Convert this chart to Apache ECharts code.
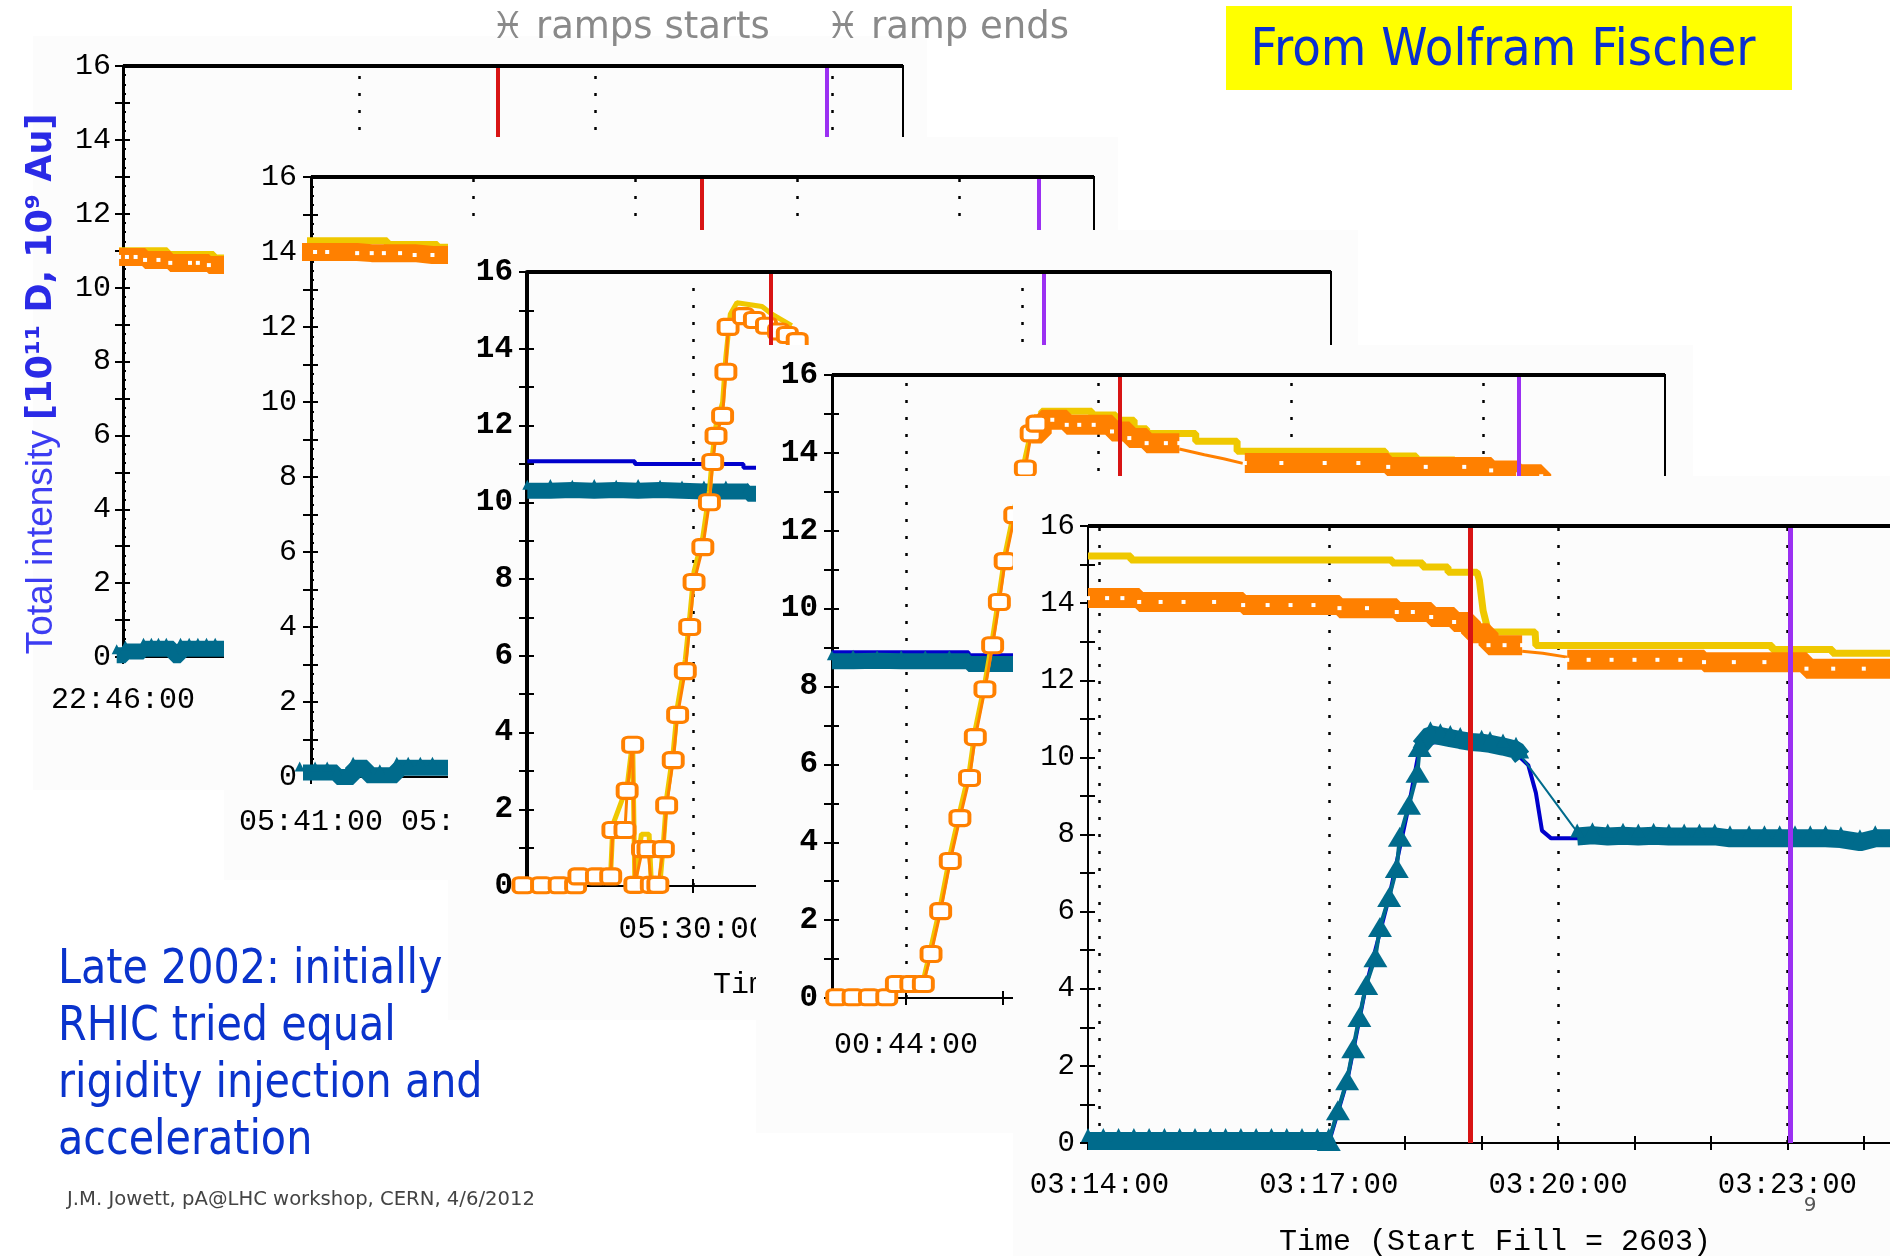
<!DOCTYPE html>
<html><head><meta charset="utf-8">
<script src="https://cdn.jsdelivr.net/npm/echarts@6/dist/echarts.min.js"></script>
<style>html,body{margin:0;padding:0;background:#fff}#c{width:1890px;height:1256px}</style>
</head><body><div id="c"></div>
<script>
// ===== DATA (x: minutes after each panel's labelled start time, y: intensity) =====
const panelStartTimes = ['22:46:00', '05:41:00', '05:30:00', '00:44:00', '03:14:00'];
const rampStartMin = [4.76, 4.83, 0.71, 2.22, 4.85];
const rampEndMin   = [8.93, 8.99, 3.20, 6.37, 9.04];
const gridLineMin  = [[3, 6, 9], [2, 4, 6, 8], [0, 3], [0, 2, 4, 6], [0, 3, 6, 9]];
const fillLabel = 'Time (Start Fill = 2603)';

// panel 1
const p1Yellow = [[-0.05,11.0],[0.56,10.9],[1.0,10.9],[1.15,10.8],[1.35,10.8]];
const p1Orange = [[-0.05,10.83],[0.05,10.83],[0.16,10.83],[0.28,10.75],[0.45,10.75],[0.6,10.67],[0.85,10.67],[0.95,10.67],[1.09,10.61],[1.35,10.61]];
const p1Teal = [[-0.08,0.05],[0.03,0.15],[0.26,0.22],[0.36,0.22],[0.45,0.22],[0.55,0.22],[0.64,0.05],[0.73,0.22],[0.84,0.22],[0.95,0.22],[1.06,0.22],[1.17,0.22],[1.35,0.22]];
// panel 2
const p2Yellow = [[-0.14,14.3],[0.94,14.2],[1.56,14.13],[1.75,14.13]];
const p2Orange = [[-0.14,14.0],[0.05,14.0],[0.2,14.0],[0.57,13.97],[0.75,13.97],[0.9,13.97],[1.1,13.97],[1.28,13.92],[1.5,13.92],[1.75,13.92]];
const p2Teal = [[-0.14,0.12],[0.05,0.12],[0.2,0.12],[0.32,0.0],[0.52,0.25],[0.69,0.05],[0.85,0.05],[1.06,0.25],[1.2,0.25],[1.35,0.25],[1.5,0.25],[1.75,0.25]];
// panel 3
const p3Blue = [[-1.51,11.07],[-0.53,11.07],[-0.53,11.0],[0.46,11.0],[0.46,10.9],[0.62,10.9]];
const p3Teal = [[-1.51,10.3],[-1.3,10.32],[-1.1,10.3],[-0.9,10.32],[-0.7,10.3],[-0.5,10.32],[-0.3,10.3],[-0.1,10.28],[0.1,10.28],[0.3,10.28],[0.5,10.22],[0.62,10.22]];
const p3Yellow = [[-1.55,0.1],[-1.07,0.1],[-1.04,0.35],[-0.75,0.35],[-0.73,1.6],[-0.6,2.6],[-0.55,3.8],[-0.53,0.1],[-0.47,1.35],[-0.4,1.35],[-0.38,0.1],[-0.3,0.1],[-0.27,1.1],[-0.24,2.3],[-0.18,3.5],[-0.14,4.7],[-0.07,5.9],[-0.03,7.0],[0.01,8.2],[0.09,9.1],[0.15,10.3],[0.18,11.3],[0.21,12.0],[0.27,12.6],[0.30,13.8],[0.34,14.9],[0.4,15.2],[0.63,15.1],[0.72,14.9],[0.9,14.6]];
const p3Orange = [[-1.55,0.02],[-1.38,0.02],[-1.22,0.02],[-1.07,0.02],[-1.04,0.25],[-0.88,0.25],[-0.75,0.25],[-0.73,1.46],[-0.62,1.46],[-0.6,2.48],[-0.55,3.68],[-0.53,0.03],[-0.46,0.96],[-0.41,0.96],[-0.38,0.03],[-0.32,0.03],[-0.27,0.96],[-0.24,2.1],[-0.18,3.28],[-0.14,4.46],[-0.07,5.6],[-0.03,6.75],[0.01,7.92],[0.09,8.83],[0.15,10.0],[0.18,11.05],[0.21,11.73],[0.27,12.25],[0.30,13.4],[0.32,14.57],[0.46,14.85],[0.56,14.75],[0.67,14.6],[0.78,14.45],[0.86,14.36],[0.95,14.2]];
// panel 4
const p4Blue = [[-0.77,8.88],[0.65,8.88],[0.65,8.8],[1.2,8.8]];
const p4Teal = [[-0.77,8.65],[-0.55,8.66],[-0.3,8.65],[-0.05,8.65],[0.2,8.65],[0.45,8.65],[0.65,8.58],[0.85,8.58],[1.2,8.58]];
const p4YellowRamp = [[-0.72,0.12],[-0.2,0.12],[-0.1,0.45],[0.18,0.45],[0.26,1.3],[0.36,2.4],[0.46,3.7],[0.56,4.8],[0.66,5.85],[0.72,6.9],[0.82,8.1],[0.9,9.25],[0.97,10.4],[1.03,11.4],[1.13,12.6],[1.24,13.9],[1.33,14.9]];
const p4OrangeRamp = [[-0.72,0.02],[-0.55,0.02],[-0.38,0.02],[-0.2,0.02],[-0.1,0.36],[0.05,0.36],[0.18,0.36],[0.26,1.13],[0.36,2.23],[0.46,3.52],[0.56,4.62],[0.66,5.65],[0.72,6.7],[0.82,7.93],[0.9,9.06],[0.97,10.17],[1.03,11.22],[1.13,12.4],[1.24,13.6],[1.3,14.5],[1.36,14.75]];
const p4YellowTop = [[1.33,14.9],[1.41,15.07],[1.93,14.97],[2.18,14.84],[2.37,14.62],[2.5,14.5],[3.01,14.3],[3.44,14.04],[4.98,13.92],[5.3,13.82],[5.7,13.72],[5.98,13.6],[6.19,13.47],[6.59,13.35]];
const p4OrangeBandA = [[1.3,14.5],[1.41,14.85],[1.52,14.85],[1.67,14.72],[1.8,14.72],[1.95,14.72],[2.14,14.55],[2.32,14.38],[2.5,14.25],[2.7,14.25],[2.84,14.25]];
const p4OrangeThin = [[2.84,14.1],[3.1,13.95],[3.3,13.85],[3.5,13.73]];
const p4OrangeBandB = [[3.52,13.74],[3.9,13.74],[4.35,13.74],[4.7,13.74],[5.01,13.64],[5.4,13.64],[5.8,13.64],[6.08,13.55],[6.36,13.45],[6.6,13.4]];
// panel 5
const p5Yellow = [[-0.15,15.22],[0.41,15.22],[0.41,15.12],[3.83,15.12],[3.83,15.04],[4.23,15.04],[4.23,14.94],[4.56,14.94],[4.56,14.8],[4.94,14.8],[4.97,14.6],[5.02,13.8],[5.09,13.25],[5.7,13.25],[5.71,12.9],[8.8,12.9],[8.8,12.8],[9.59,12.8],[9.59,12.7],[10.5,12.7]];
const p5OrangeA = [[-0.15,14.13],[0.1,14.13],[0.3,14.13],[0.52,14.03],[0.8,14.03],[1.1,14.03],[1.5,14.03],[1.88,13.95],[2.2,13.95],[2.5,13.95],[2.8,13.95],[3.14,13.87],[3.5,13.87],[3.89,13.77],[4.1,13.77],[4.34,13.64],[4.64,13.51],[4.86,13.22],[5.09,12.91],[5.3,12.91],[5.53,12.91]];
const p5OrangeThin = [[5.53,12.75],[5.8,12.7],[6.12,12.6]];
const p5OrangeB = [[6.12,12.53],[6.4,12.53],[6.7,12.53],[7.0,12.53],[7.3,12.53],[7.6,12.53],[7.91,12.47],[8.3,12.47],[8.7,12.47],[9.25,12.3],[9.6,12.3],[10.0,12.3],[10.5,12.3]];
const p5Blue = [[-0.15,0.0],[3.0,0.0],[3.24,1.6],[3.49,4.1],[3.79,6.38],[4.05,8.77],[4.19,10.27],[4.4,10.4],[5.45,10.1],[5.61,9.8],[5.71,9.08],[5.79,8.1],[5.91,7.9],[6.3,7.9],[10.5,7.9]];
const p5TealFlat = [[-0.15,0.05],[0.05,0.05],[0.25,0.05],[0.45,0.05],[0.65,0.05],[0.85,0.05],[1.05,0.05],[1.25,0.05],[1.45,0.05],[1.65,0.05],[1.85,0.05],[2.05,0.05],[2.25,0.05],[2.45,0.05],[2.65,0.05],[2.85,0.05],[3.0,0.05]];
const p5TealRamp = [[3.0,0.05],[3.12,0.85],[3.24,1.63],[3.32,2.46],[3.40,3.27],[3.49,4.1],[3.61,4.82],[3.67,5.6],[3.79,6.38],[3.89,7.13],[3.93,7.94],[4.05,8.77],[4.16,9.6],[4.19,10.27]];
const p5TealPeak = [[4.19,10.27],[4.33,10.6],[4.46,10.55],[4.59,10.5],[4.72,10.45],[4.86,10.4],[5.0,10.38],[5.11,10.35],[5.28,10.28],[5.45,10.2],[5.53,10.0]];
const p5TealThin = [[5.53,10.0],[6.2,8.2],[6.29,7.95]];
const p5TealB = [[6.25,7.95],[6.45,7.98],[6.65,7.95],[6.85,7.97],[7.05,7.95],[7.25,7.97],[7.45,7.95],[7.65,7.95],[7.85,7.95],[8.05,7.95],[8.25,7.9],[8.5,7.9],[8.7,7.9],[8.9,7.9],[9.1,7.9],[9.3,7.9],[9.5,7.9],[9.7,7.88],[9.95,7.8],[10.15,7.9],[10.5,7.9]];

// ===== STYLE / LAYOUT =====
const ORANGE = '#ff8000', YELLOW = '#efc800', TEAL = '#006b8c', BLUE = '#0000cc', RED = '#d81414', PURPLE = '#9b30f2';
const MONO = 'Liberation Mono, DejaVu Sans Mono, monospace';
const SANS = 'DejaVu Sans, Verdana, sans-serif';
const layout = [
  {grid:{left:123, top:66, width:780, height:591}, xMin:0, xMax:9.9, tick:3, labelStep:3, bg:[33,36,894,754], xFs:30, yFs:30, bold:false, xMargin:28, yMargin:12, axisW:3, minor:true},
  {grid:{left:311, top:177, width:783, height:600}, xMin:0, xMax:9.67, tick:2, labelStep:2, bg:[224,137,894,743], xFs:30, yFs:30, bold:false, xMargin:30, yMargin:14, axisW:3, minor:true},
  {grid:{left:527, top:272, width:804, height:614}, xMin:-1.513, xMax:5.816, tick:3, labelStep:3, bg:[448,230,910,790], xFs:31, yFs:31, bold:true, xMargin:28, yMargin:14, axisW:4, minor:false},
  {grid:{left:832, top:375, width:833, height:623}, xMin:-0.769, xMax:7.886, tick:1, labelStep:2, bg:[756,345,937,788], xFs:30, yFs:31, bold:true, xMargin:32, yMargin:14, axisW:3, minor:false},
  {grid:{left:1088, top:526, width:814, height:617}, xMin:-0.15, xMax:10.5, tick:1, labelStep:3, bg:[1013,476,877,780], xFs:29, yFs:29, bold:false, xMargin:28, yMargin:13, axisW:2, minor:false}
];

function timeFmt(start, step) {
  const [h, m, s] = start.split(':').map(Number);
  const b = h * 3600 + m * 60 + s;
  return v => {
    const r = Math.round(v);
    if (Math.abs(v - r) > 1e-6 || r % step !== 0) return '';
    const t = ((b + r * 60) % 86400 + 86400) % 86400;
    return [Math.floor(t / 3600), Math.floor(t % 3600 / 60), t % 60].map(x => String(x).padStart(2, '0')).join(':');
  };
}
const yFmt = v => { const r = Math.round(v); return (Math.abs(v - r) < 1e-6 && r % 2 === 0) ? String(r) : ''; };

const option = {animation:false, backgroundColor:'#ffffff', grid:[], xAxis:[], yAxis:[], series:[], graphic:{elements:[]}};
const seriesData = [
  {yellow:[p1Yellow], orangeBand:[p1Orange], tealBand:[p1Teal]},
  {yellow:[p2Yellow], orangeBand:[p2Orange], tealBand:[p2Teal]},
  {blue:[p3Blue], tealBand:[p3Teal], yellowRamp:[p3Yellow], orangeRamp:[p3Orange]},
  {blue:[p4Blue], tealBand:[p4Teal], yellowRamp:[p4YellowRamp], yellow:[p4YellowTop], orangeBand:[p4OrangeBandA, p4OrangeBandB], orangeThin:[p4OrangeThin], orangeRamp:[p4OrangeRamp]},
  {blue:[p5Blue], yellowRamp:[p5Yellow], tealBand:[p5TealFlat, p5TealPeak, p5TealB], tealRamp:[p5TealRamp], tealThin:[p5TealThin], orangeBand:[p5OrangeA, p5OrangeB], orangeThin:[p5OrangeThin]}
];

layout.forEach((L, p) => {
  const zb = 10 * (p + 1);
  const tick = {show:true, length:7, lineStyle:{color:'#000', width:2}};
  const [bx, by, bw, bh] = L.bg;
  option.graphic.elements.push({type:'rect', silent:true, z:zb, shape:{x:bx, y:by, width:bw, height:bh}, style:{fill:'#fcfcfc'}});
  option.grid.push(Object.assign({show:true, borderColor:'#000', borderWidth:2, backgroundColor:'transparent', z:zb + 1, outerBoundsMode:'none', containLabel:false}, L.grid));
  const xBase = {type:'value', gridIndex:p, min:L.xMin, max:L.xMax, minInterval:L.tick, maxInterval:L.tick, splitNumber:10, z:zb + 1, splitLine:{show:false}};
  option.xAxis.push(Object.assign({}, xBase, {position:'bottom',
    axisLine:{show:true, onZero:false, lineStyle:{color:'#000', width:2}}, axisTick:tick,
    axisLabel:{show:true, margin:L.xMargin, fontFamily:MONO, fontSize:L.xFs, color:'#000', formatter:timeFmt(panelStartTimes[p], L.labelStep)},
    name:fillLabel, nameLocation:'middle', nameGap:84, nameTextStyle:{fontFamily:MONO, fontSize:30, color:'#000', verticalAlign:'top'}}));
  option.xAxis.push(Object.assign({}, xBase, {position:'top', offset:-L.grid.height,
    axisLine:{show:false, onZero:false}, axisTick:tick, axisLabel:{show:false}}));
  const yBase = {type:'value', gridIndex:p, min:0, max:16, interval:1, z:zb + 1, splitLine:{show:false}};
  option.yAxis.push(Object.assign({}, yBase, {position:'left',
    axisLine:{show:true, onZero:false, lineStyle:{color:'#000', width:L.axisW}}, axisTick:{show:true, length:8, lineStyle:{color:'#000', width:2}},
    axisLabel:{show:true, margin:L.yMargin, fontFamily:MONO, fontSize:L.yFs, fontWeight:L.bold ? 'bold' : 'normal', color:'#000', formatter:yFmt}}));
  option.yAxis.push(Object.assign({}, yBase, {position:'right', offset:-L.grid.width,
    axisLine:{show:false, onZero:false}, axisTick:{show:true, length:7, lineStyle:{color:'#000', width:2}},
    minorTick:{show:L.minor, splitNumber:4, length:3, lineStyle:{color:'#000', width:2}}, axisLabel:{show:false}}));

  const base = {type:'line', xAxisIndex:2 * p, yAxisIndex:2 * p, clip:false, silent:true, animation:false, showAllSymbol:true, connectNulls:false};
  const D = seriesData[p];
  const add = (arr, opt) => (arr || []).forEach(d => option.series.push(Object.assign({}, base, {data:d}, opt)));
  // dotted time grid lines
  option.series.push(Object.assign({}, base, {data:[[L.xMin, -10]], symbol:'none', lineStyle:{opacity:0}, z:zb + 1,
    markLine:{silent:true, symbol:['none', 'none'], label:{show:false}, z:zb + 1, animation:false,
      lineStyle:{color:'#000', width:2.5, type:[3, 14]}, data:gridLineMin[p].map(v => ({xAxis:v}))}}));
  add(D.blue, {symbol:'none', z:zb + 2, lineStyle:{color:BLUE, width:4}});
  add(D.tealBand, {step:p === 4 ? false : 'end', symbol:'triangle', symbolSize:p === 4 ? 14 : 10, symbolOffset:[0, -6], z:zb + 3,
    itemStyle:{color:TEAL, borderWidth:0}, lineStyle:{color:TEAL, width:p === 4 ? 18 : 16}});
  add(D.tealRamp, {symbol:'triangle', symbolSize:[24, 20], z:zb + 3, itemStyle:{color:TEAL, borderWidth:0}, lineStyle:{color:TEAL, width:4}});
  add(D.tealThin, {symbol:'none', z:zb + 3, lineStyle:{color:TEAL, width:2}});
  add(D.yellow, {step:'end', symbol:'none', z:zb + 4, lineStyle:{color:YELLOW, width:7}});
  add(D.yellowRamp, {symbol:'none', z:zb + 4, lineStyle:{color:YELLOW, width:p === 4 ? 7 : 5}});
  add(D.orangeThin, {symbol:'none', z:zb + 5, lineStyle:{color:ORANGE, width:3}});
  add(D.orangeBand, {step:'end', symbol:'rect', symbolSize:[4, 4], z:zb + 5, itemStyle:{color:'#fff', borderWidth:0}, lineStyle:{color:ORANGE, width:p >= 3 ? 20 : 18}});
  add(D.orangeRamp, {symbol:'roundRect', symbolSize:[19, 15], z:zb + 5, itemStyle:{color:'#fff', borderColor:ORANGE, borderWidth:3.5}, lineStyle:{color:ORANGE, width:3}});
  // ramp start/end markers and thick top frame
  option.series.push(Object.assign({}, base, {data:[[L.xMin, -10]], symbol:'none', lineStyle:{opacity:0}, z:zb + 7,
    markLine:{silent:true, symbol:['none', 'none'], label:{show:false}, z:zb + 7, animation:false, data:[
      {xAxis:rampStartMin[p], lineStyle:{color:RED, width:p === 4 ? 5 : 4, type:'solid'}},
      {xAxis:rampEndMin[p], lineStyle:{color:PURPLE, width:p === 4 ? 5 : 4, type:'solid'}},
      {yAxis:16, lineStyle:{color:'#000', width:4, type:'solid'}}
    ]}}));
});

// ===== texts =====
const T = option.graphic.elements;
T.push({type:'text', z:200, silent:true, x:42, y:384, rotation:Math.PI / 2,
  style:{text:'{a|Total intensity }{b|[10¹¹ D, 10⁹ Au]}', align:'center', verticalAlign:'middle',
    rich:{a:{fontFamily:'Liberation Sans, Arial, sans-serif', fontSize:37, fill:'#3c3cf2'}, b:{fontFamily:SANS, fontWeight:'bold', fontSize:35, fill:'#2a2ae6'}}}});
T.push({type:'text', z:200, silent:true, x:491, y:28, style:{text:'\u2653\uFE0E ramps starts', fontFamily:SANS, fontSize:37, fill:'#8a8a8a', align:'left', verticalAlign:'middle'}});
T.push({type:'text', z:200, silent:true, x:826, y:28, style:{text:'\u2653\uFE0E ramp ends', fontFamily:SANS, fontSize:37, fill:'#8a8a8a', align:'left', verticalAlign:'middle'}});
T.push({type:'rect', z:200, silent:true, shape:{x:1226, y:6, width:566, height:84}, style:{fill:'#ffff00'}});
T.push({type:'text', z:201, silent:true, x:1503, y:51, scaleX:0.9, style:{text:'From Wolfram Fischer', fontFamily:SANS, fontSize:52, fill:'#0a2fd0', align:'center', verticalAlign:'middle'}});
['Late 2002: initially', 'RHIC tried equal', 'rigidity injection and', 'acceleration'].forEach((s, i) => {
  T.push({type:'text', z:200, silent:true, x:58, y:971 + 57 * i, scaleX:0.86, style:{text:s, fontFamily:SANS, fontSize:48, fill:'#0a33cc', align:'left', verticalAlign:'middle'}});
});
T.push({type:'text', z:200, silent:true, x:67, y:1200, scaleX:0.98, style:{text:'J.M. Jowett, pA@LHC workshop, CERN, 4/6/2012', fontFamily:SANS, fontSize:20, fill:'#444', align:'left', verticalAlign:'middle'}});
T.push({type:'text', z:200, silent:true, x:1810, y:1206, style:{text:'9', fontFamily:SANS, fontSize:20, fill:'#555', align:'center', verticalAlign:'middle'}});

const chart = echarts.init(document.getElementById('c'), null, {renderer:'canvas'});
chart.setOption(option);
</script></body></html>
